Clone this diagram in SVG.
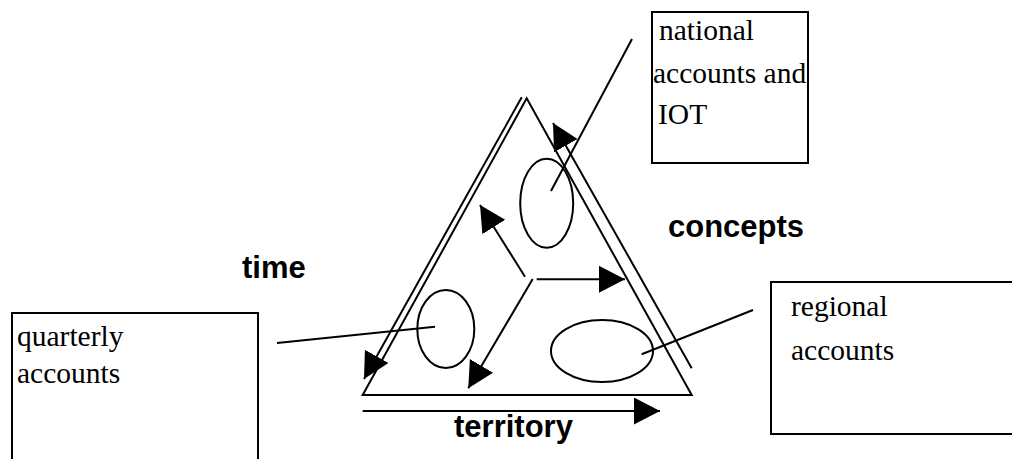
<svg xmlns="http://www.w3.org/2000/svg" width="1012" height="459" viewBox="0 0 1012 459">
<style>
.ln{stroke:#000;stroke-width:2;fill:none}
.box{stroke:#000;stroke-width:2;fill:#fff}
.t{font-family:"Liberation Serif","Times New Roman",serif;font-size:29.5px;fill:#000}
.b{font-family:"Liberation Sans",Arial,sans-serif;font-size:31px;font-weight:bold;fill:#000}
</style>
<defs>
<marker id="ah" markerUnits="userSpaceOnUse" markerWidth="27" markerHeight="28" refX="26" refY="13.5" orient="auto" viewBox="0 0 27 28">
<path d="M0,0 L26,13.5 L0,27 z" fill="#000"/>
</marker>
</defs>
<rect width="1012" height="459" fill="#fff"/>
<g id="triangle">
<polygon class="ln" points="526.7,98.3 362.7,395 691.7,395"/>
<ellipse class="ln" cx="546.7" cy="203.3" rx="26.5" ry="44.5"/>
<ellipse class="ln" cx="445.8" cy="329" rx="28.5" ry="39"/>
<ellipse class="ln" cx="602" cy="351" rx="51" ry="31"/>
</g>
<g id="connectors">
<line class="ln" x1="521.7" y1="97.3" x2="364" y2="379" marker-end="url(#ah)"/>
<line class="ln" x1="691.7" y1="368.3" x2="553" y2="123" marker-end="url(#ah)"/>
<line class="ln" x1="362.7" y1="411" x2="660" y2="411" marker-end="url(#ah)"/>
<line class="ln" x1="525" y1="276.7" x2="480" y2="205" marker-end="url(#ah)"/>
<line class="ln" x1="536.7" y1="279.3" x2="625" y2="279.3" marker-end="url(#ah)"/>
<line class="ln" x1="532.7" y1="279" x2="468.3" y2="388.3" marker-end="url(#ah)"/>
<line class="ln" x1="551" y1="191" x2="632" y2="39"/>
<line class="ln" x1="435" y1="326.7" x2="277" y2="343"/>
<line class="ln" x1="641.7" y1="354.3" x2="753" y2="310"/>
</g>
<g id="national">
<rect class="box" x="652" y="12" width="156" height="151"/>
<text class="t" x="659" y="40">national</text>
<text class="t" x="653" y="83">accounts and</text>
<text class="t" x="658" y="124">IOT</text>
</g>
<g id="quarterly">
<rect class="box" x="12" y="313" width="246" height="170"/>
<text class="t" x="17" y="346">quarterly</text>
<text class="t" x="17" y="383">accounts</text>
</g>
<g id="regional">
<rect class="box" x="771" y="282" width="260" height="152"/>
<text class="t" x="791" y="316">regional</text>
<text class="t" x="791" y="360">accounts</text>
</g>
<g id="labels">
<text class="b" x="242" y="278">time</text>
<text class="b" x="668" y="237">concepts</text>
<text class="b" x="454" y="437">territory</text>
</g>
</svg>
